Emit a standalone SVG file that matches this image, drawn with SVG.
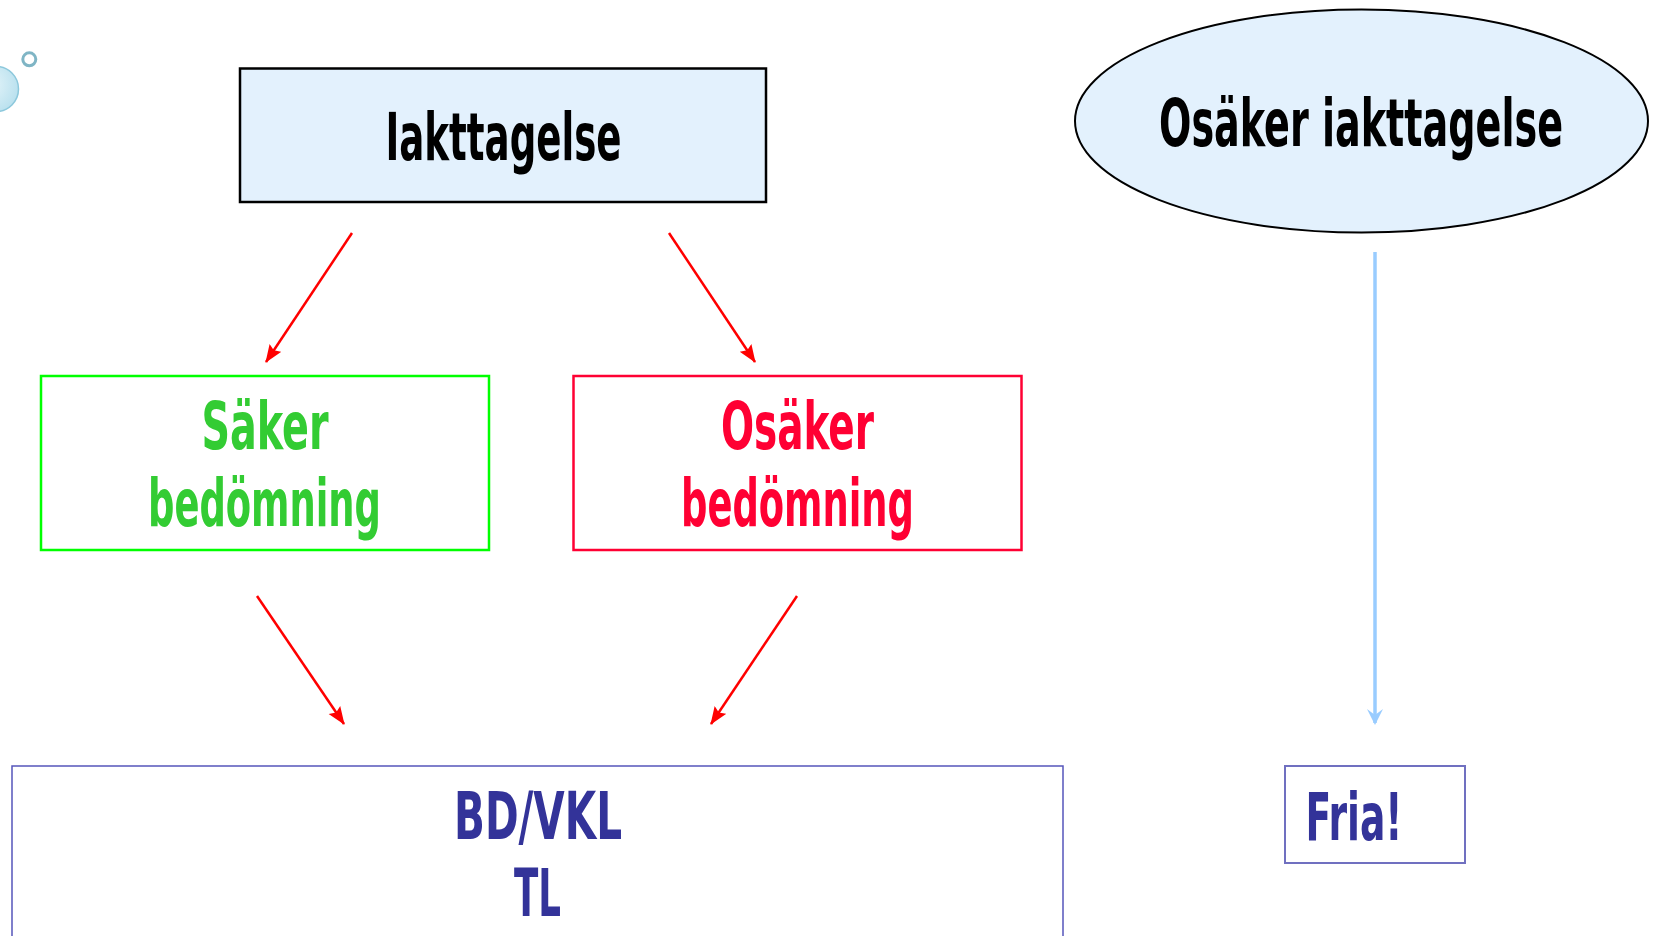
<svg xmlns="http://www.w3.org/2000/svg" width="1656" height="936" viewBox="0 0 1656 936">
<style>
.t{font-family:"DejaVu Sans","Liberation Sans",sans-serif;font-weight:bold;font-size:66px;font-stretch:condensed}
.red{stroke:#FF0000;stroke-width:2.5;fill:none}
</style>
<defs>
<radialGradient id="bub" cx="0.35" cy="0.4" r="0.7">
<stop offset="0" stop-color="#E6F5FA"/>
<stop offset="1" stop-color="#B8E0EE"/>
</radialGradient>
<marker id="ar" markerUnits="userSpaceOnUse" markerWidth="20" markerHeight="16" refX="17" refY="7" orient="auto">
<path d="M0,0 L18,7 L0,14 L3,7 Z" fill="#FF0000"/>
</marker>
<marker id="ab" markerUnits="userSpaceOnUse" markerWidth="18" markerHeight="18" refX="14" refY="8" orient="auto">
<path d="M0,0 L16,8 L0,16 L6,8 Z" fill="#99CCFF"/>
</marker>
</defs>
<rect width="1656" height="936" fill="#FFFFFF"/>
<g id="decor">
<circle cx="-4" cy="89" r="22.5" fill="url(#bub)" stroke="#8CC8DC" stroke-width="1.5"/>
<circle cx="29.3" cy="59.3" r="6.5" fill="none" stroke="#7FB5C5" stroke-width="3"/>
</g>
<g id="connectors">
<path class="red" d="M352,233 L266,362" marker-end="url(#ar)"/>
<path class="red" d="M669,233 L755,362" marker-end="url(#ar)"/>
<path class="red" d="M257,596 L344,724" marker-end="url(#ar)"/>
<path class="red" d="M797,596 L711,724" marker-end="url(#ar)"/>
<path d="M1375,252 L1375,723" stroke="#99CCFF" stroke-width="3.5" fill="none" marker-end="url(#ab)"/>
</g>
<g id="iakttagelse">
<rect x="240" y="68.5" width="526" height="133.5" fill="#E3F1FD" stroke="#000000" stroke-width="2.5"/>
<text class="t" x="385.5" y="160" fill="#000000" textLength="236" lengthAdjust="spacingAndGlyphs">Iakttagelse</text>
</g>
<g id="osaker-iakttagelse">
<ellipse cx="1361.5" cy="121" rx="286.5" ry="111.5" fill="#E3F1FD" stroke="#000000" stroke-width="2"/>
<text class="t" x="1159" y="146" fill="#000000" textLength="404" lengthAdjust="spacingAndGlyphs">Osäker iakttagelse</text>
</g>
<g id="saker-bedomning">
<rect x="41" y="376" width="448" height="174" fill="#FFFFFF" stroke="#00FF00" stroke-width="2.5"/>
<text class="t" x="201.5" y="448.5" fill="#33CC33" textLength="127" lengthAdjust="spacingAndGlyphs">Säker</text>
<text class="t" x="148" y="526" fill="#33CC33" textLength="233" lengthAdjust="spacingAndGlyphs">bedömning</text>
</g>
<g id="osaker-bedomning">
<rect x="573.5" y="376" width="448" height="174" fill="#FFFFFF" stroke="#FF0033" stroke-width="2.5"/>
<text class="t" x="721" y="448.5" fill="#FF0033" textLength="153" lengthAdjust="spacingAndGlyphs">Osäker</text>
<text class="t" x="681" y="526" fill="#FF0033" textLength="233" lengthAdjust="spacingAndGlyphs">bedömning</text>
</g>
<g id="bd-vkl-tl">
<rect x="12" y="766" width="1051" height="190" fill="#FFFFFF" stroke="#5555BB" stroke-width="1.5"/>
<text class="t" x="454" y="839" fill="#333399" textLength="168" lengthAdjust="spacingAndGlyphs">BD/VKL</text>
<text class="t" x="514" y="916" fill="#333399" textLength="47" lengthAdjust="spacingAndGlyphs">TL</text>
</g>
<g id="fria">
<rect x="1285" y="766" width="180" height="97" fill="#FFFFFF" stroke="#7070C0" stroke-width="2"/>
<text class="t" x="1305.5" y="839.5" fill="#333399" textLength="97" lengthAdjust="spacingAndGlyphs">Fria!</text>
</g>
</svg>
